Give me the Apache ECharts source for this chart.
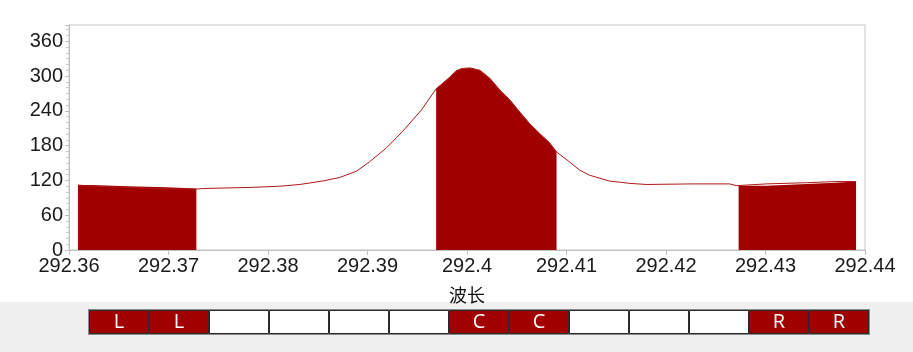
<!DOCTYPE html>
<html>
<head>
<meta charset="utf-8">
<script src="https://cdn.jsdelivr.net/npm/echarts@6/dist/echarts.min.js"></script>
<style>
  html, body { margin: 0; padding: 0; background: #ffffff; }
  #chart { width: 913px; height: 352px; }
</style>
</head>
<body>
<div id="chart"></div>
<script>
// Spectrum around the 292.40 nm line
const wavelength = [
  292.3609, 292.3623, 292.3659, 292.3698, 292.3728, 292.3734, 292.3784, 292.3812,
  292.3832, 292.3855, 292.3872, 292.3889, 292.3902, 292.3919, 292.3935, 292.3954,
  292.3969, 292.3982, 292.3989, 292.3995, 292.4003, 292.4013, 292.4023, 292.4033,
  292.4043, 292.4053, 292.4063, 292.4073, 292.4083, 292.4090, 292.4103, 292.4113,
  292.4123, 292.4133, 292.4143, 292.4153, 292.4163, 292.4180, 292.4227, 292.4264,
  292.4271, 292.4273, 292.4301, 292.4341, 292.4370, 292.4391
];
const intensity = [
  112, 110, 108, 106, 105, 106, 108, 110,
  113, 119, 125, 136, 152, 176, 204, 241,
  278, 297, 309, 313, 314, 310, 296, 276,
  259, 238, 218, 201, 185, 169, 152, 138,
  129, 124, 119, 117, 115, 113, 114, 114,
  111, 111, 114, 116, 118, 118
];

// Integration windows: left background, centre (peak), right background
const leftWindow = [292.3609, 292.3728];
const centreWindow = [292.3969, 292.4090];
const rightWindow = [292.4273, 292.4391];

// Axis ticks
const yTicks = [0, 60, 120, 180, 240, 300, 360];
const xTicks = [292.36, 292.37, 292.38, 292.39, 292.40, 292.41, 292.42, 292.43, 292.44];

// Pixel-window strip below the plot
const cellLabels = ['L', 'L', '', '', '', '', 'C', 'C', '', '', '', 'R', 'R'];

const RED = '#a00000';
const FONT = '"Liberation Sans", Arial, sans-serif';

const points = wavelength.map((w, i) => [w, intensity[i]]);
const inWindow = win => points.filter(p => p[0] >= win[0] - 1e-9 && p[0] <= win[1] + 1e-9);

function windowSeries(win, step) {
  return {
    type: 'line',
    data: inWindow(win),
    step: step,
    symbol: 'none',
    lineStyle: { width: 0 },
    areaStyle: { color: RED, opacity: 1 },
    z: 2,
    silent: true
  };
}

const chart = echarts.init(document.getElementById('chart'), null, { renderer: 'canvas' });

chart.setOption({
  animation: false,
  backgroundColor: '#ffffff',
  graphic: [{
    type: 'rect',
    left: 0,
    top: 302,
    shape: { width: 913, height: 50 },
    style: { fill: '#f0f0f0' },
    z: -10,
    silent: true
  }],
  grid: [
    { left: 69, right: 48, top: 25, bottom: 102, show: true, borderColor: '#c8c8c8', borderWidth: 1 },
    { left: 89, top: 310, width: 780, height: 24, show: true, borderColor: '#8a8a8a', borderWidth: 2, backgroundColor: '#ffffff' }
  ],
  xAxis: [
    {
      gridIndex: 0,
      type: 'value',
      min: xTicks[0],
      max: xTicks[xTicks.length - 1],
      interval: 0.01,
      name: '波长',
      nameLocation: 'middle',
      nameGap: 36,
      nameTextStyle: { color: '#111', fontSize: 18, fontFamily: '"Noto Sans CJK SC", sans-serif' },
      axisLine: { lineStyle: { color: '#c0c0c0', width: 1 } },
      axisTick: { show: true, length: 5, lineStyle: { color: '#c0c0c0' } },
      axisLabel: {
        color: '#1a1a1a', fontSize: 20, fontFamily: FONT, margin: 6,
        formatter: v => String(+v.toFixed(2))
      },
      splitLine: { show: false }
    },
    {
      gridIndex: 1,
      type: 'category',
      data: cellLabels.map((_, i) => i),
      show: false
    }
  ],
  yAxis: [
    {
      gridIndex: 0,
      type: 'value',
      min: 0,
      max: 388,
      interval: 60,
      axisLine: { show: true, lineStyle: { color: '#c0c0c0', width: 1 } },
      axisTick: { show: true, length: 4, lineStyle: { color: '#c0c0c0' } },
      minorTick: { show: true, splitNumber: 6, length: 3, lineStyle: { color: '#c8c8c8' } },
      axisLabel: {
        color: '#1a1a1a', fontSize: 20, fontFamily: FONT, margin: 6,
        showMaxLabel: false,
        formatter: v => (yTicks.indexOf(v) >= 0 ? String(v) : '')
      },
      splitLine: { show: false }
    },
    {
      gridIndex: 1,
      type: 'value',
      min: 0,
      max: 1,
      show: false
    }
  ],
  series: [
    windowSeries(leftWindow, 'end'),
    windowSeries(centreWindow, false),
    windowSeries(rightWindow, 'end'),
    {
      type: 'line',
      data: points,
      symbol: 'none',
      lineStyle: { color: '#b01818', width: 1 },
      z: 3,
      silent: true
    },
    {
      type: 'bar',
      xAxisIndex: 1,
      yAxisIndex: 1,
      barWidth: '100%',
      data: cellLabels.map(l => ({
        value: 1,
        itemStyle: { color: l ? RED : '#ffffff' }
      })),
      itemStyle: { borderColor: '#2a2a2a', borderWidth: 1 },
      label: {
        show: true,
        position: 'inside',
        color: '#ffffff',
        fontSize: 20,
        fontFamily: '"Open Sans", "Noto Sans", sans-serif',
        formatter: p => cellLabels[p.dataIndex]
      },
      silent: true
    }
  ]
});
</script>
</body>
</html>
